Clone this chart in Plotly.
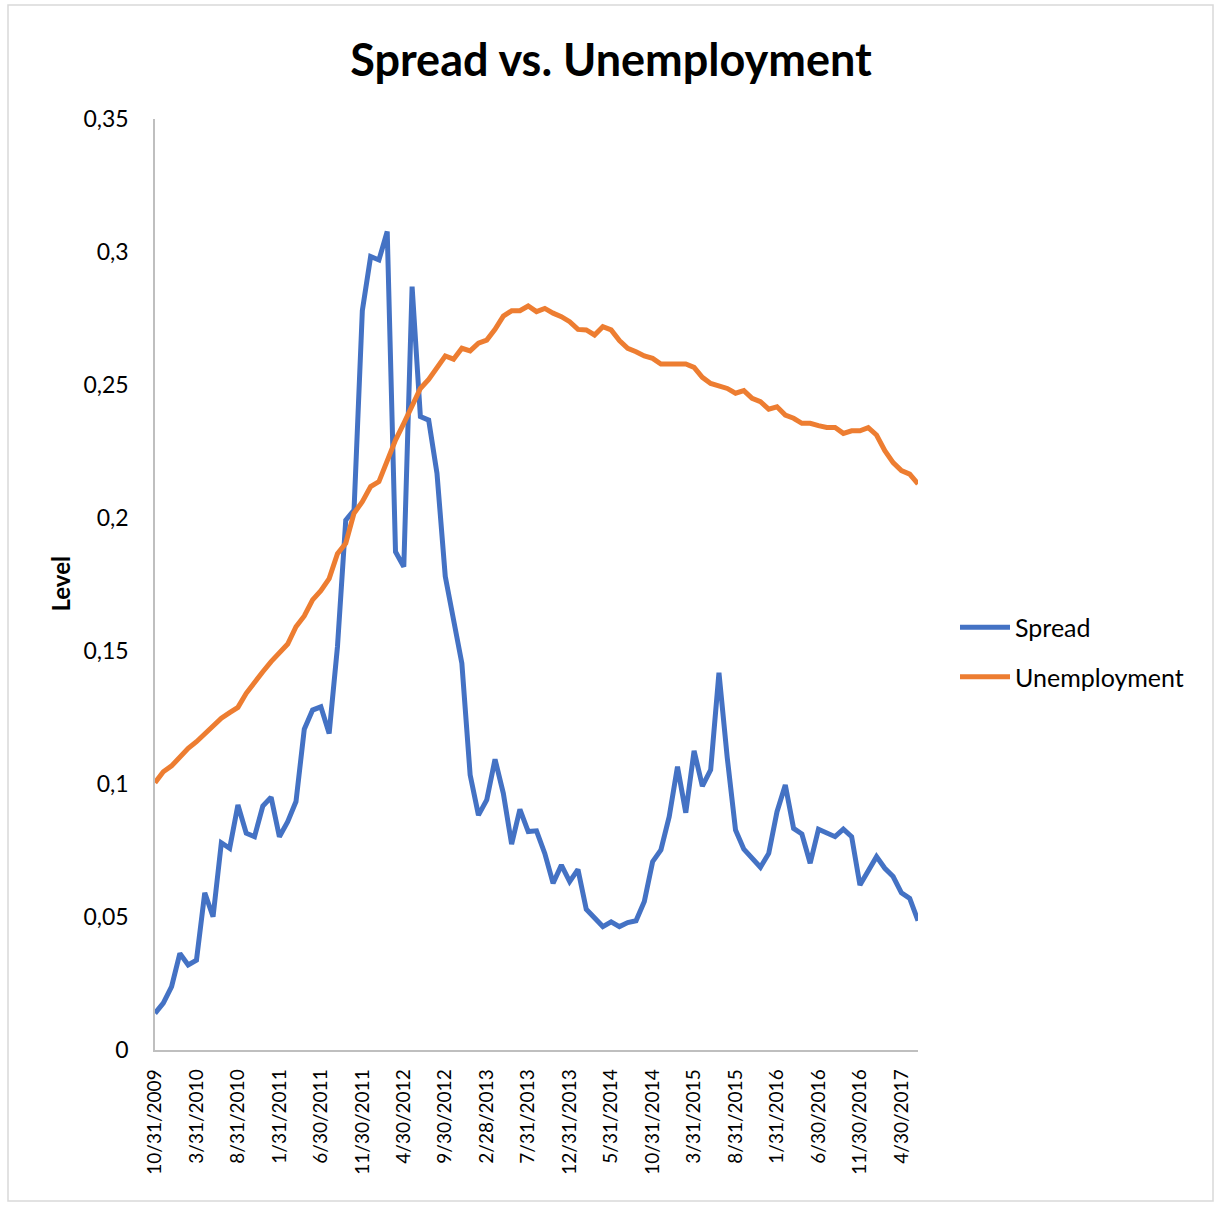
import pandas as pd
import plotly.graph_objects as go

# Monthly month-end categories, 10/31/2009 .. 6/30/2017
dates = pd.date_range("2009-10-31", periods=93, freq="ME")
categories = [f"{d.month}/{d.day}/{d.year}" for d in dates]

spread = [
    0.0138, 0.0176, 0.0238, 0.0363, 0.0320, 0.0338, 0.0591, 0.0501, 0.0779, 0.0758,
    0.0921, 0.0815, 0.0802, 0.0917, 0.0950, 0.0802, 0.0858, 0.0934, 0.1206, 0.1278,
    0.1290, 0.1190, 0.1516, 0.1992, 0.2030, 0.2780, 0.2983, 0.2970, 0.3077, 0.1873,
    0.1817, 0.2870, 0.2381, 0.2368, 0.2168, 0.1780, 0.1617, 0.1454, 0.1034, 0.0883,
    0.0940, 0.1093, 0.0965, 0.0774, 0.0905, 0.0821, 0.0824, 0.0739, 0.0627, 0.0695,
    0.0633, 0.0679, 0.0529, 0.0495, 0.0464, 0.0482, 0.0464, 0.0479, 0.0486, 0.0558,
    0.0708, 0.0752, 0.0877, 0.1065, 0.0892, 0.1125, 0.0992, 0.1053, 0.1418, 0.1099,
    0.0827, 0.0755, 0.0721, 0.0687, 0.0739, 0.0896, 0.0996, 0.0833, 0.0812, 0.0702,
    0.0830, 0.0818, 0.0802, 0.0830, 0.0802, 0.0620, 0.0677, 0.0727, 0.0683, 0.0652,
    0.0591, 0.0570, 0.0486,
]

unemployment = [
    0.1005, 0.1046, 0.1068, 0.1100, 0.1134, 0.1159, 0.1190, 0.1215, 0.1247, 0.1268,
    0.1288, 0.1341, 0.1385, 0.1422, 0.1460, 0.1491, 0.1526, 0.1591, 0.1632, 0.1692,
    0.1727, 0.1772, 0.1866, 0.1905, 0.2018, 0.2061, 0.2118, 0.2137, 0.2218, 0.2293,
    0.2356, 0.2418, 0.2487, 0.2521, 0.2569, 0.2609, 0.2597, 0.2638, 0.2628, 0.2657,
    0.2669, 0.2709, 0.2759, 0.2779, 0.2779, 0.2797, 0.2776, 0.2788, 0.2770, 0.2757,
    0.2738, 0.2709, 0.2707, 0.2688, 0.2719, 0.2707, 0.2667, 0.2638, 0.2625, 0.2609,
    0.2600, 0.2579, 0.2579, 0.2579, 0.2579, 0.2566, 0.2529, 0.2506, 0.2496, 0.2487,
    0.2469, 0.2479, 0.2450, 0.2437, 0.2409, 0.2418, 0.2387, 0.2375, 0.2356, 0.2356,
    0.2347, 0.2340, 0.2340, 0.2318, 0.2328, 0.2328, 0.2340, 0.2312, 0.2253, 0.2208,
    0.2178, 0.2165, 0.2128,
]

x_tick_labels = [
    "10/31/2009", "3/31/2010", "8/31/2010", "1/31/2011", "6/30/2011", "11/30/2011",
    "4/30/2012", "9/30/2012", "2/28/2013", "7/31/2013", "12/31/2013", "5/31/2014",
    "10/31/2014", "3/31/2015", "8/31/2015", "1/31/2016", "6/30/2016", "11/30/2016",
    "4/30/2017",
]
y_tick_vals = [0, 0.05, 0.10, 0.15, 0.20, 0.25, 0.30, 0.35]
y_tick_text = ["0", "0,05", "0,1", "0,15", "0,2", "0,25", "0,3", "0,35"]

FONT = "Lato"
BLUE = "#4472C4"
ORANGE = "#ED7D31"
AXIS = "#BFBFBF"

fig = go.Figure()
fig.add_trace(go.Scatter(x=categories, y=spread, mode="lines", name="Spread",
                         legendgroup="a",
                         line=dict(color=BLUE, width=5)))
fig.add_trace(go.Scatter(x=categories, y=unemployment, mode="lines", name="Unemployment",
                         legendgroup="b",
                         line=dict(color=ORANGE, width=5)))

W, H = 1215, 1207
L, R, T, B = 155, 297, 119, 157
pw, ph = W - L - R, H - T - B

fig.update_layout(
    width=W, height=H,
    margin=dict(l=L, r=R, t=T, b=B),
    paper_bgcolor="white", plot_bgcolor="white",
    font=dict(family=FONT, color="#000000", size=21),
    title=dict(text="<b>Spread vs. Unemployment</b>", x=(611 - L) / pw, xref="paper",
               xanchor="center", y=1 - 60 / H, yanchor="middle",
               font=dict(family=FONT, size=45, color="#000000")),
    showlegend=True,
    legend=dict(x=(955 - L) / pw, y=(1050 - 652) / ph, xanchor="left", yanchor="middle",
                font=dict(family=FONT, size=25, color="#000000"),
                tracegroupgap=14, itemwidth=50, bgcolor="rgba(0,0,0,0)"),
    xaxis=dict(type="category", range=[0, len(categories) - 1],
               tickmode="array", tickvals=x_tick_labels, ticktext=x_tick_labels,
               tickangle=-90, showgrid=False, zeroline=False,
               showline=True, linecolor=AXIS, linewidth=1.5,
               ticks="outside", ticklen=10, tickcolor="rgba(0,0,0,0)",
               tickfont=dict(family=FONT, size=19, color="#000000")),
    yaxis=dict(range=[0, 0.35], tickmode="array", tickvals=y_tick_vals, ticktext=y_tick_text,
               showgrid=False, zeroline=False, showline=True, linecolor=AXIS, linewidth=1.5,
               ticks="outside", ticklen=20, tickcolor="rgba(0,0,0,0)",
               tickfont=dict(family=FONT, size=23, color="#000000")),
    annotations=[dict(text="<b>Level</b>", textangle=-90, xref="paper", yref="paper",
                      x=(60 - L) / pw, y=0.5, xanchor="center", yanchor="middle",
                      showarrow=False, font=dict(family=FONT, size=24, color="#000000"))],
    shapes=[dict(type="rect", xref="paper", yref="paper",
                 x0=(8 - L) / pw, x1=(1213 - L) / pw,
                 y0=(H - B - 1201) / ph, y1=(H - B - 5) / ph,
                 line=dict(color="#D9D9D9", width=1.5), fillcolor="rgba(0,0,0,0)", layer="below")],
)

fig.write_html("out.html")
